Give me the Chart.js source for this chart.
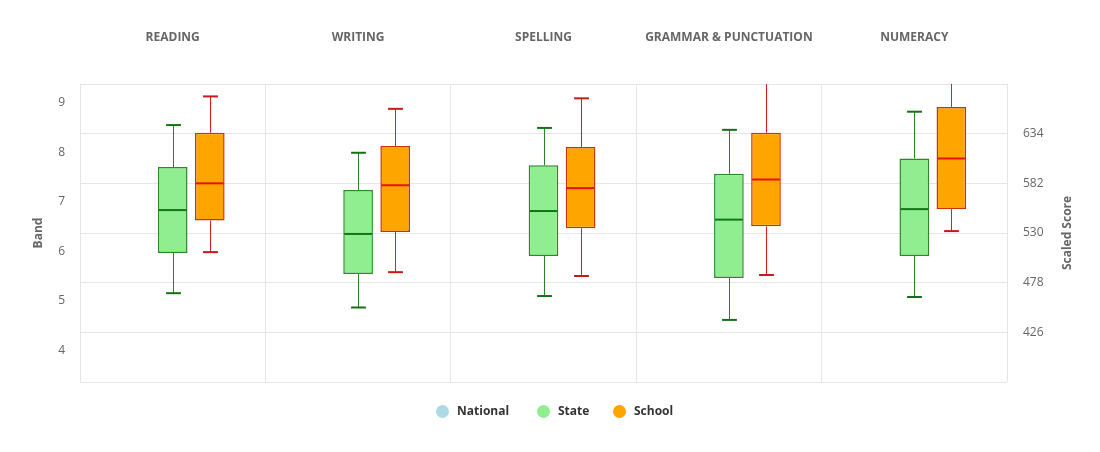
<!DOCTYPE html>
<html>
<head>
<meta charset="utf-8">
<script src="https://cdn.jsdelivr.net/npm/chart.js@4.4.1/dist/chart.umd.min.js"></script>
<style>
  html, body { margin: 0; padding: 0; background: #fff; }
  #wrap { width: 1100px; height: 452px; position: relative; }
  #legend { position: absolute; left: 0; top: 403px; width: 1100px; height: 16px;
            font-family: "Open Sans", sans-serif; font-weight: bold; font-size: 12px; color: #333; }
  #legend .item { position: absolute; top: 0; display: flex; align-items: center; line-height: 16px; white-space: nowrap; }
  #legend .dot { width: 13px; height: 13px; border-radius: 50%; margin-right: 8px; display: inline-block; }
</style>
</head>
<body>
<div id="wrap"><canvas id="c"></canvas><div id="legend"></div></div>
<script>
const categories = ['READING', 'WRITING', 'SPELLING', 'GRAMMAR & PUNCTUATION', 'NUMERACY'];
const seriesNames = ['National', 'State', 'School'];
const seriesColors = ['#add8e6', '#90ee90', '#ffa500'];

const stateMin    = [467, 452, 464, 439, 463];
const stateQ1     = [509, 487, 506, 483, 506];
const stateMedian = [554, 529, 553, 544, 555];
const stateQ3     = [599, 575, 601, 592, 608];
const stateMax    = [643, 614, 640, 638, 657];

const schoolMin    = [510, 489, 485, 486, 532];
const schoolQ1     = [543, 531, 535, 537, 555];
const schoolMedian = [582, 580, 577, 586, 608];
const schoolQ3     = [635, 621, 620, 635, 662];
const schoolMax    = [673, 660, 671, 700, 700];

const bandTicks = [4, 5, 6, 7, 8, 9];
const scoreTicks = [374, 426, 478, 530, 582, 634, 686];
const scoreLabels = [426, 478, 530, 582, 634];

const stateBoxes = stateQ1.map((q1, i) => [q1, stateQ3[i]]);
const schoolBoxes = schoolQ1.map((q1, i) => [q1, schoolQ3[i]]);

const boxSeries = [
  { index: 1, min: stateMin, med: stateMedian, max: stateMax, whisker: '#2a7f2a', cap: '#157015', median: '#137513' },
  { index: 2, min: schoolMin, med: schoolMedian, max: schoolMax, whisker: '#d42020', cap: '#c81818', median: '#e81010' }
];

const boxPlugin = {
  id: 'boxWhiskers',
  afterDatasetsDraw(chart) {
    const ctx = chart.ctx, ys = chart.scales.y, a = chart.chartArea;
    ctx.save();
    ctx.beginPath();
    ctx.rect(a.left, a.top, a.right - a.left, a.bottom - a.top);
    ctx.clip();
    const seg = (x1, y1, x2, y2) => { ctx.beginPath(); ctx.moveTo(x1, y1); ctx.lineTo(x2, y2); ctx.stroke(); };
    boxSeries.forEach(s => {
      const meta = chart.getDatasetMeta(s.index);
      const ds = chart.data.datasets[s.index];
      meta.data.forEach((bar, j) => {
        const p = bar.getProps(['x', 'width'], true);
        const x = Math.round(p.x) + 0.5, w = p.width;
        const yQ1 = ys.getPixelForValue(ds.data[j][0]);
        const yQ3 = ys.getPixelForValue(ds.data[j][1]);
        const yMin = ys.getPixelForValue(s.min[j]);
        const yMax = ys.getPixelForValue(s.max[j]);
        const yMed = ys.getPixelForValue(s.med[j]);
        ctx.strokeStyle = s.whisker;
        ctx.lineWidth = 1;
        seg(x, yQ3, x, yMax);
        seg(x, yQ1, x, yMin);
        ctx.strokeStyle = s.cap;
        ctx.lineWidth = 2;
        seg(x - w / 4, yMax, x + w / 4, yMax);
        seg(x - w / 4, yMin, x + w / 4, yMin);
        ctx.strokeStyle = s.median;
        seg(p.x - w / 2 + 1, yMed, p.x + w / 2 - 1, yMed);
      });
    });
    ctx.restore();
  }
};

const axisTitlePlugin = {
  id: 'axisTitles',
  afterDraw(chart) {
    const ctx = chart.ctx, a = chart.chartArea;
    const cy = (a.top + a.bottom) / 2;
    ctx.save();
    ctx.font = 'bold 12px "Open Sans", sans-serif';
    ctx.fillStyle = '#666';
    ctx.textAlign = 'center';
    ctx.textBaseline = 'middle';
    [['Band', 39], ['Scaled Score', 1068]].forEach(([t, x]) => {
      ctx.save();
      ctx.translate(x, cy);
      ctx.rotate(-Math.PI / 2);
      ctx.fillText(t, 0, 0);
      ctx.restore();
    });
    ctx.restore();
  }
};

const chart = new Chart(document.getElementById('c'), {
  type: 'bar',
  data: {
    labels: categories,
    datasets: [
      { label: seriesNames[0], data: categories.map(() => null), backgroundColor: seriesColors[0], borderColor: seriesColors[0], yAxisID: 'y' },
      { label: seriesNames[1], data: stateBoxes, backgroundColor: seriesColors[1], borderColor: '#2a8a2a', borderWidth: 1.5, borderSkipped: false, yAxisID: 'y' },
      { label: seriesNames[2], data: schoolBoxes, backgroundColor: seriesColors[2], borderColor: '#cc3300', borderWidth: 1.5, borderSkipped: false, yAxisID: 'y' }
    ]
  },
  options: {
    responsive: true,
    maintainAspectRatio: false,
    animation: false,
    categoryPercentage: 0.6,
    barPercentage: 0.8,
    layout: { padding: { top: 0, right: 0, bottom: 70, left: 0 } },
    plugins: {
      tooltip: { enabled: false },
      legend: { display: false }
    },
    scales: {
      x: {
        position: 'top',
        afterFit(scale) { scale.height = 84; },
        grid: { color: '#e6e6e6', drawTicks: false, offset: true },
        border: { color: '#e6e6e6' },
        ticks: {
          color: '#666',
          padding: 39,
          font: { family: '"Open Sans", sans-serif', size: 12, weight: 'bold' }
        }
      },
      y: {
        position: 'right',
        min: 374,
        max: 686,
        afterFit(scale) { scale.width = 93; },
        afterBuildTicks(scale) { scale.ticks = scoreTicks.map(v => ({ value: v })); },
        grid: { color: '#e6e6e6', drawTicks: false },
        border: { display: false },
        ticks: {
          color: '#666',
          padding: 16,
          font: { family: '"Open Sans", sans-serif', size: 12 },
          callback: v => scoreLabels.includes(v) ? String(v) : ''
        }
      },
      yBand: {
        position: 'left',
        min: 3.36,
        max: 9.38,
        afterFit(scale) { scale.width = 80; },
        afterBuildTicks(scale) { scale.ticks = bandTicks.map(v => ({ value: v })); },
        grid: { display: false, drawTicks: false },
        border: { color: '#e6e6e6' },
        ticks: {
          color: '#666',
          padding: 15,
          font: { family: '"Open Sans", sans-serif', size: 12 }
        }
      }
    }
  },
  plugins: [boxPlugin, axisTitlePlugin]
});

const legendLeft = [436, 537, 613];
const legendEl = document.getElementById('legend');
chart.data.datasets.forEach((d, i) => {
  const item = document.createElement('span');
  item.className = 'item';
  item.style.left = legendLeft[i] + 'px';
  const dot = document.createElement('span');
  dot.className = 'dot';
  dot.style.background = seriesColors[i];
  item.appendChild(dot);
  item.appendChild(document.createTextNode(d.label));
  legendEl.appendChild(item);
});
</script>
</body>
</html>
